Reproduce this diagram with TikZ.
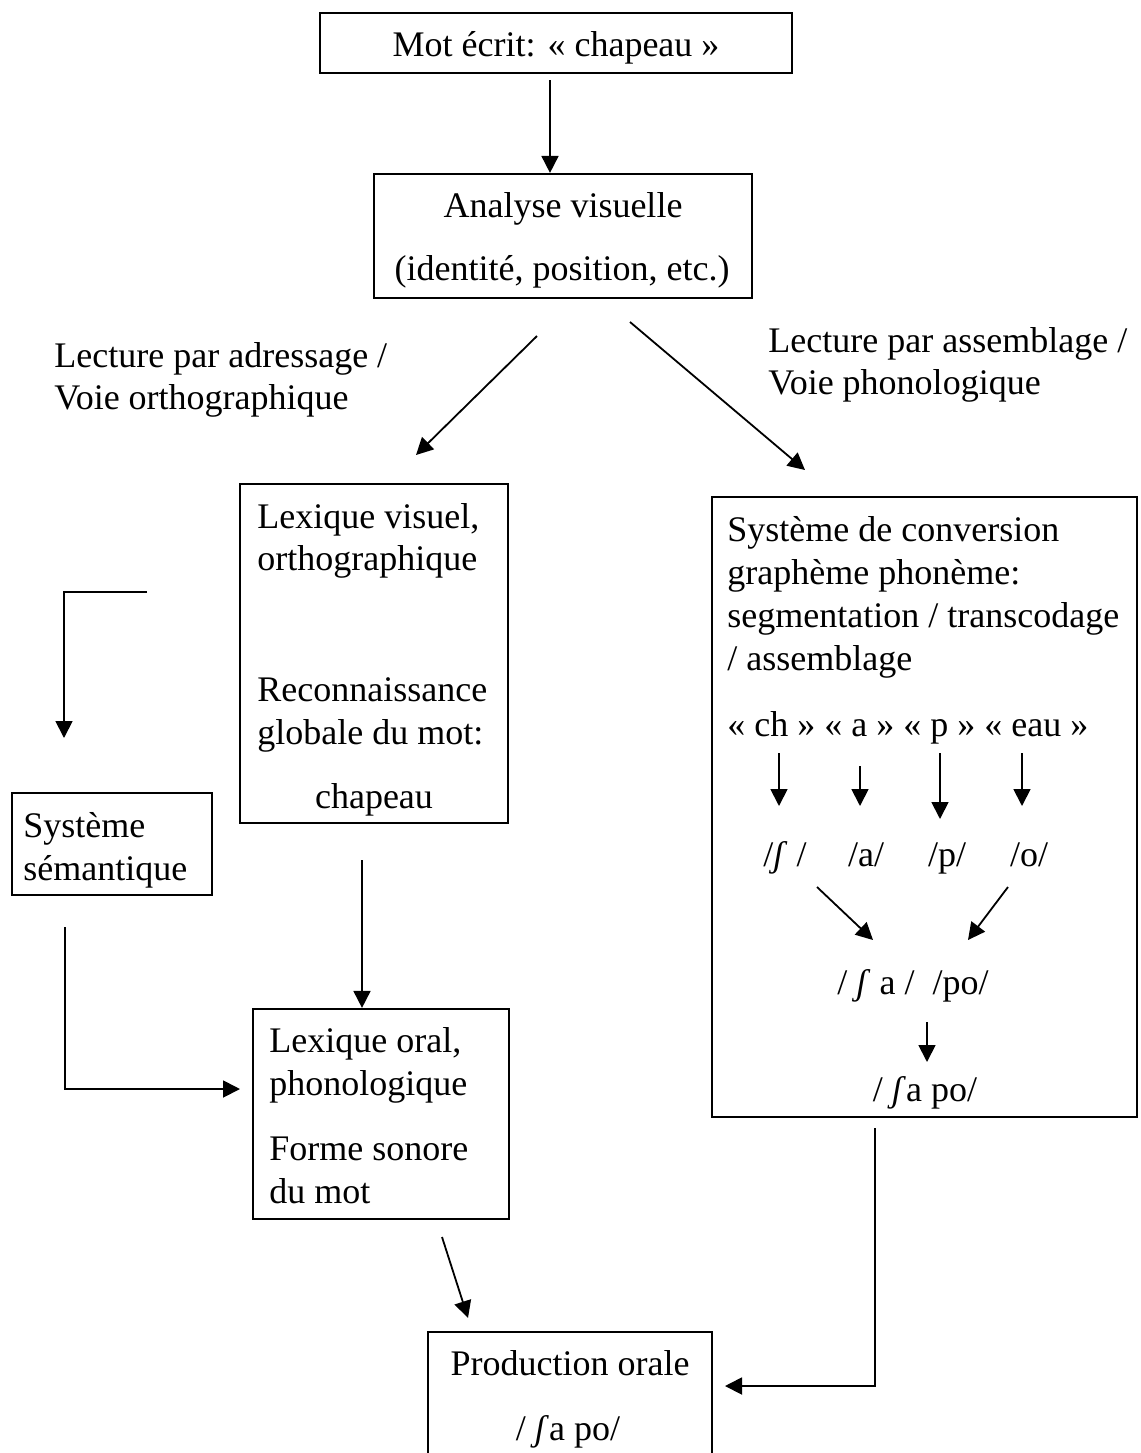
\documentclass[tikz,border=0pt]{standalone}
\usepackage{fontspec}
\setmainfont{Liberation Serif}
\usetikzlibrary{arrows.meta,fit}
\begin{document}
\begin{tikzpicture}[x=0.5pt,y=-0.5pt,
  box/.style={draw,line width=1.1pt,inner sep=0pt},
  txt/.style={inner sep=0pt,anchor=base west,font=\fontsize{18}{21}\selectfont},
  ctxt/.style={txt,anchor=base},
  arr/.style={line width=0.9pt,-{Triangle[length=8.5pt,width=8.5pt]}}]
\useasboundingbox[fill=white] (0,0) rectangle (1141,1453);

% boxes
\node[box,fit={(320,13)(792,73)}] (mot) {};
\node[box,fit={(374,174)(752,298)}] (ana) {};
\node[box,fit={(240,484)(508,823)}] (lexv) {};
\node[box,fit={(12,793)(212,895)}] (sem) {};
\node[box,fit={(712,497)(1137,1117)}] (conv) {};
\node[box,fit={(253,1009)(509,1219)}] (lexo) {};
\node[box,fit={(428,1332)(712,1475)}] (prod) {};

% texts
\node[ctxt] (t1) at (556,56) {Mot écrit: « chapeau »};
\node[ctxt] (t2) at (563,217) {Analyse visuelle};
\node[ctxt] (t3) at (562,280) {(identité, position, etc.)};
\node[txt] (l1) at (54,367) {Lecture par adressage /};
\node[txt] (l2) at (54,409) {Voie orthographique};
\node[txt] (r1) at (768,352) {Lecture par assemblage /};
\node[txt] (r2) at (768,394) {Voie phonologique};

\node[txt] (v1) at (257,528) {Lexique visuel,};
\node[txt] (v2) at (257,570) {orthographique};
\node[txt] (v3) at (257,701) {Reconnaissance};
\node[txt] (v4) at (257,744) {globale du mot:};
\node[ctxt] (v5) at (374,808) {chapeau};

\node[txt] (s1) at (23,837) {Système};
\node[txt] (s2) at (23,880) {sémantique};

\node[txt] (c1) at (727,541) {Système de conversion};
\node[txt] (c2) at (727,584) {graphème phonème:};
\node[txt] (c3) at (727,627) {segmentation / transcodage};
\node[txt] (c4) at (727,670) {/ assemblage};
\node[txt] (c5) at (727,736) {« ch » « a » « p » « eau »};
\node[ctxt] (p1) at (785,866) {/\textit{ʃ} /};
\node[ctxt] (p2) at (866,866) {/a/};
\node[ctxt] (p3) at (947,866) {/p/};
\node[ctxt] (p4) at (1029,866) {/o/};
\node[ctxt] (p5) at (913,994) {/ \textit{ʃ} a /\ \ /po/};
\node[ctxt] (p6) at (925,1101) {/ \textit{ʃ}a po/};

\node[txt] (o1) at (269,1052) {Lexique oral,};
\node[txt] (o2) at (269,1095) {phonologique};
\node[txt] (o3) at (269,1160) {Forme sonore};
\node[txt] (o4) at (269,1203) {du mot};

\node[ctxt] (q1) at (570,1375) {Production orale};
\node[ctxt] (q2) at (568,1440) {/ \textit{ʃ}a po/};

% connectors
\coordinate (a1) at (550,80);
\draw[arr] (a1) -- (a1 |- ana.north);
\coordinate (a2s) at (537,336); \coordinate (a2e) at (416,455);
\draw[arr] (a2s) -- (a2e);
\coordinate (a3s) at (630,322); \coordinate (a3e) at (805,470);
\draw[arr] (a3s) -- (a3e);
\coordinate (b1) at (147,592); \coordinate (b2) at (64,738);
\draw[arr] (b1) -| (b2);
\coordinate (cc) at (362,860);
\draw[arr] (cc) -- (cc |- lexo.north);
\coordinate (d1) at (65,927); \coordinate (d2) at (240,1089);
\draw[arr] (d1) |- (d2);
\coordinate (e1) at (442,1237); \coordinate (e2) at (468,1318);
\draw[arr] (e1) -- (e2);
\coordinate (f1) at (875,1128); \coordinate (f2) at (725,1386);
\draw[arr] (f1) |- (f2);

% inside conversion box
\coordinate (g1s) at (779,753); \coordinate (g1e) at (779,806);
\coordinate (g2s) at (860,766); \coordinate (g2e) at (860,806);
\coordinate (g3s) at (940,753); \coordinate (g3e) at (940,819);
\coordinate (g4s) at (1022,753); \coordinate (g4e) at (1022,806);
\draw[arr] (g1s) -- (g1e);
\draw[arr] (g2s) -- (g2e);
\draw[arr] (g3s) -- (g3e);
\draw[arr] (g4s) -- (g4e);
\coordinate (h1s) at (817,887); \coordinate (h1e) at (873,940);
\coordinate (h2s) at (1008,887); \coordinate (h2e) at (968,940);
\draw[arr] (h1s) -- (h1e);
\draw[arr] (h2s) -- (h2e);
\coordinate (k1) at (927,1022); \coordinate (k2) at (927,1062);
\draw[arr] (k1) -- (k2);
\end{tikzpicture}
\end{document}
